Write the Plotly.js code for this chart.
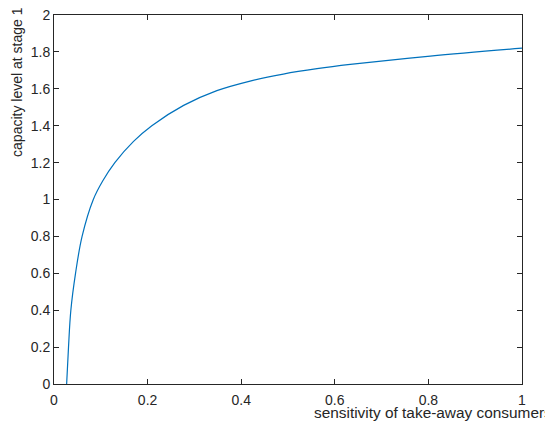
<!DOCTYPE html>
<html>
<head>
<meta charset="utf-8">
<script src="https://cdn.plot.ly/plotly-3.0.1.min.js"></script>
<style>html,body{margin:0;padding:0;background:#fff;}#chart{width:545px;height:430px;}</style>
</head>
<body>
<div id="chart"></div>
<script>
const sensitivity = [0.027, 0.031, 0.036, 0.046, 0.060, 0.084, 0.104, 0.130, 0.170, 0.209, 0.277, 0.348, 0.419, 0.490, 0.562, 0.633, 0.804, 1.0];
const capacity    = [0.0,   0.2,   0.4,   0.6,   0.8,   1.0,   1.10,  1.2,   1.315, 1.40,  1.51,  1.59,  1.642, 1.680, 1.709, 1.732, 1.777, 1.820];
const xTicks = [0, 0.2, 0.4, 0.6, 0.8, 1];
const xTickLabels = ['0', '0.2', '0.4', '0.6', '0.8', '1'];
const yTicks = [0, 0.2, 0.4, 0.6, 0.8, 1, 1.2, 1.4, 1.6, 1.8, 2];
const yTickLabels = ['0', '0.2', '0.4', '0.6', '0.8', '1', '1.2', '1.4', '1.6', '1.8', '2'];
const xLabel = 'sensitivity of take-away consumers';
const yLabel = 'capacity level at stage 1';

const fontFam = 'Liberation Sans, Arial, sans-serif';
const axisCol = '#262626';

const trace = {
  x: sensitivity, y: capacity, type: 'scatter', mode: 'lines',
  line: {color: '#0072BD', width: 1.2, shape: 'spline', smoothing: 1},
  hoverinfo: 'skip'
};

const axisCommon = {
  showgrid: false, zeroline: false, showline: true, linecolor: axisCol, linewidth: 1,
  mirror: 'ticks', ticks: 'inside', ticklen: 5, tickwidth: 1, tickcolor: axisCol,
  tickfont: {family: fontFam, size: 14, color: axisCol}, fixedrange: true
};

const layout = {
  width: 545, height: 430,
  margin: {l: 54, r: 23, t: 15, b: 46},
  paper_bgcolor: '#fff', plot_bgcolor: '#fff',
  showlegend: false,
  xaxis: Object.assign({}, axisCommon, {range: [0, 1], tickvals: xTicks, ticktext: xTickLabels, ticklabelstandoff: 3}),
  yaxis: Object.assign({}, axisCommon, {range: [0, 2], tickvals: yTicks, ticktext: yTickLabels}),
  annotations: [
    {text: xLabel, xref: 'paper', yref: 'paper', x: 0.5506, y: -0.076,
     xanchor: 'left', yanchor: 'middle', showarrow: false,
     font: {family: fontFam, size: 15.4, color: axisCol}},
    {text: yLabel, xref: 'paper', yref: 'paper', x: -0.078, y: 0.82,
     xanchor: 'center', yanchor: 'middle', textangle: -90, showarrow: false,
     font: {family: fontFam, size: 14, color: axisCol}}
  ]
};

Plotly.newPlot('chart', [trace], layout, {displayModeBar: false, staticPlot: true});
</script>
</body>
</html>
